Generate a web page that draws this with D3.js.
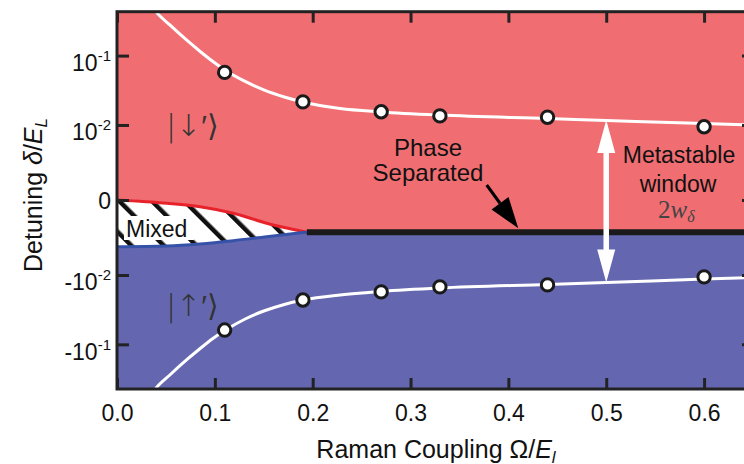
<!DOCTYPE html>
<html>
<head>
<meta charset="utf-8">
<script src="https://cdn.jsdelivr.net/npm/d3@7"></script>
<style>
body { margin: 0; background: #fff; }
svg { display: block; font-family: "Liberation Sans", Arial, sans-serif; }
</style>
</head>
<body>
<svg id="chart" width="744" height="464"></svg>
<script>
// axis ticks
var xTicks = [0, 0.1, 0.2, 0.3, 0.4, 0.5, 0.6];
var yTicks = [0.1, 0.01, 0, -0.01, -0.1];
var yTickBase = ["10", "10", "0", "-10", "-10"];
var yTickExp = ["-1", "-2", "", "-2", "-1"];

// measured points (Raman coupling, detuning)
var ptOmega = [0.11, 0.19, 0.27, 0.33, 0.44, 0.60];
var ptUpper = [0.058, 0.022, 0.0158, 0.0137, 0.0131, 0.0094];
var ptLower = [-0.063, -0.0235, -0.0179, -0.0151, -0.0141, -0.0107];

// white theory curves
var curveX = [0.034, 0.04, 0.054, 0.071, 0.085, 0.098, 0.111, 0.131, 0.15, 0.171, 0.19, 0.228, 0.27, 0.33, 0.44, 0.50, 0.60, 0.65];
var curveUp = [0.525, 0.407, 0.268, 0.1655, 0.1143, 0.0827, 0.0618, 0.0432, 0.0327, 0.0259, 0.0219, 0.0176, 0.0157, 0.0141, 0.0125, 0.0117, 0.0105, 0.0100];
var curveLo = [-0.525, -0.407, -0.268, -0.1655, -0.1143, -0.0827, -0.0628, -0.0439, -0.0338, -0.0272, -0.0235, -0.0198, -0.0176, -0.0157, -0.0139, -0.0130, -0.0115, -0.0109];

// mixed region boundaries and phase separated line
var mixX = [0, 0.051, 0.085, 0.119, 0.153, 0.194];
var mixTop = [0, -0.00011, -0.00024, -0.00053, -0.0011, -0.0018];
var mixBot = [-0.00345, -0.00335, -0.00308, -0.00267, -0.00223, -0.0018];
var barX = [0.194, 0.65];
var barY = -0.0018;

// metastable window arrow
var windowX = 0.5;
var windowTop = 0.0119;
var windowBottom = -0.0130;

var svg = d3.select("#chart");
var pLeft = 117, pRight = 753, pTop = 11.7, pBottom = 389;

var x = d3.scaleLinear().domain([0, 0.65]).range([pLeft, pRight]);
var y = d3.scaleSymlog().constant(0.001).domain([-0.42, 0.41]).range([pBottom, pTop]);

var defs = svg.append("defs");
defs.append("clipPath").attr("id", "plotclip")
    .append("rect").attr("x", pLeft).attr("y", pTop)
    .attr("width", pRight - pLeft).attr("height", pBottom - pTop);

var hatch = defs.append("pattern").attr("id", "hatch")
    .attr("patternUnits", "userSpaceOnUse")
    .attr("width", 23).attr("height", 23)
    .attr("patternTransform", "rotate(-45)");
hatch.append("rect").attr("width", 23).attr("height", 23).attr("fill", "#fff");
hatch.append("rect").attr("x", 9).attr("width", 4.5).attr("height", 23).attr("fill", "#111");

var plot = svg.append("g").attr("clip-path", "url(#plotclip)");

// background = spin up region
plot.append("rect").attr("x", pLeft).attr("y", pTop)
    .attr("width", pRight - pLeft).attr("height", pBottom - pTop)
    .attr("fill", "#6467B0");

// spin down region above the boundary
var bX = mixX.concat([barX[1]]);
var bY = mixTop.concat([barY]);
var redArea = d3.area()
    .x(function(d, i) { return x(bX[i]); })
    .y0(pTop)
    .y1(function(d, i) { return y(bY[i]); })
    .curve(d3.curveMonotoneX);
plot.append("path").datum(bX).attr("d", redArea).attr("fill", "#F06E72");

// mixed region
var mixArea = d3.area()
    .x(function(d, i) { return x(mixX[i]); })
    .y0(function(d, i) { return y(mixTop[i]); })
    .y1(function(d, i) { return y(mixBot[i]); })
    .curve(d3.curveMonotoneX);
plot.append("path").datum(mixX).attr("d", mixArea).attr("fill", "url(#hatch)");

plot.append("rect").attr("x", 124).attr("y", 216).attr("width", 70).attr("height", 24).attr("fill", "#fff");
plot.append("text").attr("x", 126).attr("y", 237)
    .attr("font-size", 23).attr("fill", "#111").text("Mixed");

var topLine = d3.line()
    .x(function(d, i) { return x(mixX[i]); })
    .y(function(d, i) { return y(mixTop[i]); })
    .curve(d3.curveMonotoneX);
var botLine = d3.line()
    .x(function(d, i) { return x(mixX[i]); })
    .y(function(d, i) { return y(mixBot[i]); })
    .curve(d3.curveMonotoneX);
plot.append("path").datum(mixX).attr("d", topLine)
    .attr("fill", "none").attr("stroke", "#E8222B").attr("stroke-width", 3);
plot.append("path").datum(mixX).attr("d", botLine)
    .attr("fill", "none").attr("stroke", "#3552A8").attr("stroke-width", 3);

// phase separated line
plot.append("line")
    .attr("x1", x(barX[0])).attr("x2", x(barX[1]))
    .attr("y1", y(barY)).attr("y2", y(barY))
    .attr("stroke", "#1a1a1a").attr("stroke-width", 6);

// theory curves
var upLine = d3.line()
    .x(function(d, i) { return x(curveX[i]); })
    .y(function(d, i) { return y(curveUp[i]); })
    .curve(d3.curveMonotoneX);
var loLine = d3.line()
    .x(function(d, i) { return x(curveX[i]); })
    .y(function(d, i) { return y(curveLo[i]); })
    .curve(d3.curveMonotoneX);
plot.append("path").datum(curveX).attr("d", upLine)
    .attr("fill", "none").attr("stroke", "#fff").attr("stroke-width", 3);
plot.append("path").datum(curveX).attr("d", loLine)
    .attr("fill", "none").attr("stroke", "#fff").attr("stroke-width", 3);

// metastable window double arrow
var wx = x(windowX), wt = y(windowTop), wb = y(windowBottom);
plot.append("line").attr("x1", wx).attr("x2", wx)
    .attr("y1", wt + 25).attr("y2", wb - 25)
    .attr("stroke", "#fff").attr("stroke-width", 5.5);
plot.append("path")
    .attr("d", "M" + wx + "," + wt + "L" + (wx + 9) + "," + (wt + 33) + "L" + (wx - 9) + "," + (wt + 33) + "Z")
    .attr("fill", "#fff");
plot.append("path")
    .attr("d", "M" + wx + "," + wb + "L" + (wx + 9) + "," + (wb - 33) + "L" + (wx - 9) + "," + (wb - 33) + "Z")
    .attr("fill", "#fff");

// phase separated pointer
var ax0 = 486.7, ay0 = 185, ax1 = 518.3, ay1 = 228.3;
var ang = Math.atan2(ay1 - ay0, ax1 - ax0);
var hl = 31, hw = 10.5;
var bx = ax1 - hl * Math.cos(ang), by = ay1 - hl * Math.sin(ang);
plot.append("line").attr("x1", ax0).attr("y1", ay0).attr("x2", bx).attr("y2", by)
    .attr("stroke", "#000").attr("stroke-width", 3);
plot.append("path")
    .attr("d", "M" + ax1 + "," + ay1 +
        "L" + (bx + hw * Math.sin(ang)) + "," + (by - hw * Math.cos(ang)) +
        "L" + (bx - hw * Math.sin(ang)) + "," + (by + hw * Math.cos(ang)) + "Z")
    .attr("fill", "#000");

// data points
plot.selectAll("circle.up").data(ptOmega).enter().append("circle")
    .attr("class", "up")
    .attr("cx", function(d) { return x(d); })
    .attr("cy", function(d, i) { return y(ptUpper[i]); })
    .attr("r", 6.2).attr("fill", "#fff").attr("stroke", "#1a1a1a").attr("stroke-width", 3);
plot.selectAll("circle.lo").data(ptOmega).enter().append("circle")
    .attr("class", "lo")
    .attr("cx", function(d) { return x(d); })
    .attr("cy", function(d, i) { return y(ptLower[i]); })
    .attr("r", 6.2).attr("fill", "#fff").attr("stroke", "#1a1a1a").attr("stroke-width", 3);

// annotations
plot.append("text").attr("x", 428).attr("y", 156).attr("text-anchor", "middle")
    .attr("font-size", 24).attr("fill", "#111").text("Phase");
plot.append("text").attr("x", 428).attr("y", 181).attr("text-anchor", "middle")
    .attr("font-size", 24).attr("fill", "#111").text("Separated");
plot.append("text").attr("x", 679).attr("y", 163).attr("text-anchor", "middle")
    .attr("font-size", 23).attr("fill", "#111").text("Metastable");
plot.append("text").attr("x", 678).attr("y", 192).attr("text-anchor", "middle")
    .attr("font-size", 23).attr("fill", "#111").text("window");
var ww = plot.append("text").attr("x", 658).attr("y", 218)
    .attr("font-family", "'Liberation Serif', 'DejaVu Serif', serif")
    .attr("font-size", 25).attr("fill", "#444");
ww.append("tspan").text("2");
ww.append("tspan").attr("font-style", "italic").text("w");
ww.append("tspan").attr("font-style", "italic").attr("font-size", 16).attr("dy", 4).text("δ");

plot.append("text").attr("x", 166).attr("y", 136)
    .attr("font-family", "'DejaVu Sans', sans-serif").attr("font-weight", 200)
    .attr("font-size", 30).attr("fill", "#333").text("|↓′⟩");
plot.append("text").attr("x", 166).attr("y", 316)
    .attr("font-family", "'DejaVu Sans', sans-serif").attr("font-weight", 200)
    .attr("font-size", 30).attr("fill", "#333").text("|↑′⟩");

// axes
var axisColor = "#222";
var gx = svg.append("g").attr("transform", "translate(0," + pBottom + ")")
    .call(d3.axisBottom(x).tickValues(xTicks).tickFormat(d3.format(".1f"))
        .tickSize(-11).tickSizeOuter(0).tickPadding(16));
var gxt = svg.append("g").attr("transform", "translate(0," + pTop + ")")
    .call(d3.axisTop(x).tickValues(xTicks).tickFormat("").tickSize(-11).tickSizeOuter(0));
var gy = svg.append("g").attr("transform", "translate(" + pLeft + ",0)")
    .call(d3.axisLeft(y).tickValues(yTicks).tickFormat("").tickSize(-12).tickSizeOuter(0));
var gyr = svg.append("g").attr("transform", "translate(" + pRight + ",0)")
    .call(d3.axisRight(y).tickValues(yTicks).tickFormat("").tickSize(-11).tickSizeOuter(0));

[gx, gxt, gy, gyr].forEach(function(g) {
    g.select(".domain").remove();
    g.selectAll(".tick line").attr("stroke", axisColor).attr("stroke-width", 3);
});
gx.selectAll(".tick text").attr("font-size", 23).attr("fill", "#111")
    .attr("font-family", "'Liberation Sans', Arial, sans-serif");

// y tick labels with exponents
gy.selectAll(".tick").each(function(d, i) {
    var t = d3.select(this).append("text")
        .attr("x", -6).attr("y", d === 0 ? 9 : 15)
        .attr("text-anchor", "end").attr("fill", "#111")
        .attr("font-size", 23).attr("font-family", "'Liberation Sans', Arial, sans-serif");
    t.append("tspan").text(yTickBase[i]);
    if (yTickExp[i]) t.append("tspan").attr("font-size", 15).attr("dy", -10).text(yTickExp[i]);
});

// frame
svg.append("rect").attr("x", pLeft).attr("y", pTop)
    .attr("width", pRight - pLeft).attr("height", pBottom - pTop)
    .attr("fill", "none").attr("stroke", axisColor).attr("stroke-width", 3);

// axis titles
var xt = svg.append("text").attr("x", 436).attr("y", 458).attr("text-anchor", "middle")
    .attr("font-size", 25).attr("fill", "#111");
xt.append("tspan").text("Raman Coupling Ω/");
xt.append("tspan").attr("font-style", "italic").text("E");
xt.append("tspan").attr("font-style", "italic").attr("font-size", 17).attr("dy", 5).text("l");

var yt = svg.append("text").attr("transform", "translate(42,195) rotate(-90)")
    .attr("text-anchor", "middle").attr("font-size", 25).attr("fill", "#111");
yt.append("tspan").text("Detuning ");
yt.append("tspan").attr("font-style", "italic").text("δ");
yt.append("tspan").text("/");
yt.append("tspan").attr("font-style", "italic").text("E");
yt.append("tspan").attr("font-style", "italic").attr("font-size", 17).attr("dy", 5).text("L");
</script>
</body>
</html>
